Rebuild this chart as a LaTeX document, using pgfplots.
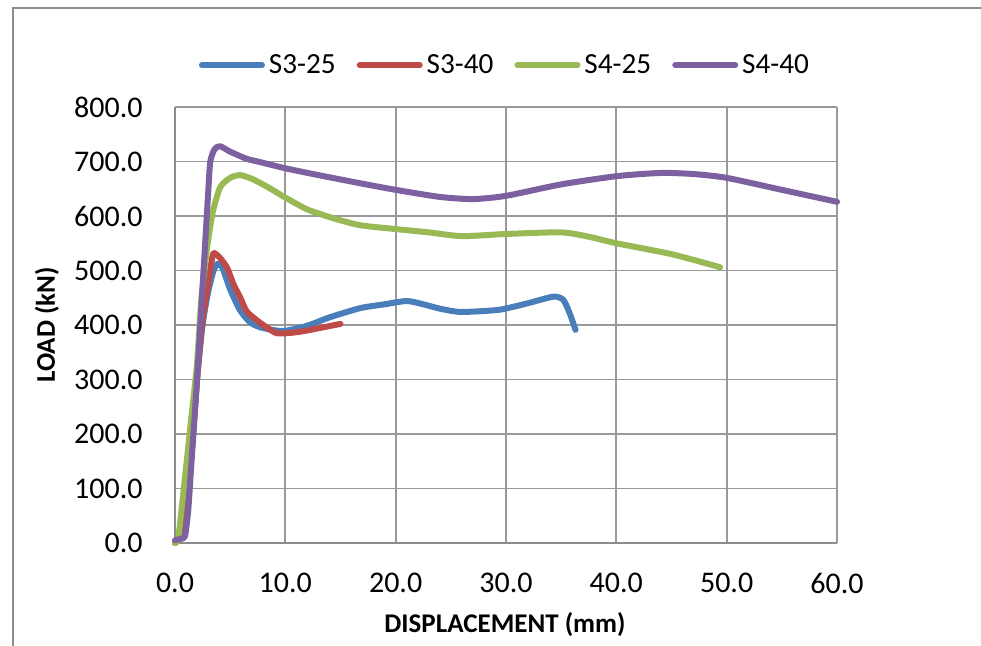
\documentclass[border=0pt]{standalone}
\usepackage{pgfplots}
\pgfplotsset{compat=1.18}
\usepackage{fontspec}
\setmainfont{Carlito}
\definecolor{cblue}{HTML}{4A7EBB}
\definecolor{cred}{HTML}{BE4B48}
\definecolor{cgreen}{HTML}{98B954}
\definecolor{cpurple}{HTML}{7D60A0}
\begin{document}
\begin{tikzpicture}
\useasboundingbox (-87.5pt,-51.5pt) rectangle (403pt,271.5pt);
\begin{axis}[
  at={(0,0)}, anchor=south west,
  scale only axis, width=331pt, height=218pt,
  xmin=0, xmax=60, ymin=0, ymax=800,
  xtick={0,10,...,60}, ytick={0,100,...,800},
  grid=major, grid style={color=black!40, line width=0.9pt},
  axis x line*=bottom, axis y line*=left,
  axis line style={-, color=black!45, line width=1pt},
  major tick length=0pt,
  /pgf/number format/assume math mode=true,
  /pgf/number format/.cd, fixed, fixed zerofill, precision=1, /pgfplots/.cd,
  tick label style={font=\fontsize{15}{18}\selectfont, inner sep=0pt},
  yticklabel style={xshift=-16pt},
  xticklabel style={yshift=-15pt},
  xlabel={DISPLACEMENT (mm)}, ylabel={LOAD (kN)},
  label style={font=\fontsize{13.5}{16}\selectfont\bfseries},
  xlabel style={at={(axis description cs:0.4985,-0.188)}, anchor=center},
  ylabel style={at={(axis description cs:-0.1934,0.5)}, anchor=center},
  legend columns=4,
  legend style={draw=none, fill=none, at={(axis description cs:0.5,1.096)}, anchor=center,
    font=\fontsize{14.6}{18}\selectfont,
    /tikz/every even column/.append style={column sep=8.5pt},
    cells={anchor=west, inner sep=1.5pt}},
  legend image code/.code={\draw[#1, line width=3pt, line cap=round] (0pt,0pt) -- (30pt,0pt);},
  clip=false,
  every axis plot/.append style={line width=3pt, line join=round, line cap=round, smooth, tension=0.4},
]
\addplot[cblue] coordinates {
(0,0) (0.5,12) (1,70) (1.5,165) (2,300) (2.5,400) (3,460) (3.5,500) (3.9,513) (4.3,505) (5,465) (5.9,427) (6.8,405) (7.7,396) (8.8,391) (9.9,389) (11.3,395) (12.2,400) (14,414) (16.8,431) (19,438) (21,444) (22.5,438) (24,430) (25.8,424) (28.3,426) (29.7,429) (32,440) (34.3,452) (35.2,446) (35.8,420) (36.3,391)
};
\addlegendentry{S3-25}
\addplot[cred] coordinates {
(0,0) (0.5,12) (1,70) (1.5,165) (2,300) (2.5,410) (3,475) (3.3,515) (3.5,532) (4,525) (4.7,506) (5.3,475) (5.9,451) (6.5,425) (7.4,409) (8,400) (9.2,385) (10.7,386) (12,390) (13.5,396) (15,402)
};
\addlegendentry{S3-40}
\addplot[cgreen] coordinates {
(0,0) (0.3,10) (0.8,100) (1.4,215) (2.0,330) (2.4,450) (2.9,540) (3.4,605) (4.1,653) (5,670) (5.9,675) (7,668) (8.5,652) (9.9,635) (12,612) (14.5,595) (16.8,583) (20,576) (23,570) (26,563) (30,567) (35,570) (37.5,562) (40,550) (45,530) (49.4,506)
};
\addlegendentry{S4-25}
\addplot[cpurple] coordinates {
(0,5) (0.5,8) (0.9,12) (1.2,60) (1.5,150) (2,300) (2.5,470) (3,640) (3.2,700) (3.6,723) (4.1,728) (5,718) (6.5,705) (7.7,699) (9.9,688) (13,675) (16.8,660) (20,648) (24,635) (27,631) (30,637) (35,658) (40,673) (44,679) (47,677) (50,670) (55,648) (60,626)
};
\addlegendentry{S4-40}
\end{axis}
\draw[black!45, line width=1pt] (-81pt,-70pt) -- (-81pt,267.5pt) -- (420pt,267.5pt);
\end{tikzpicture}
\end{document}
